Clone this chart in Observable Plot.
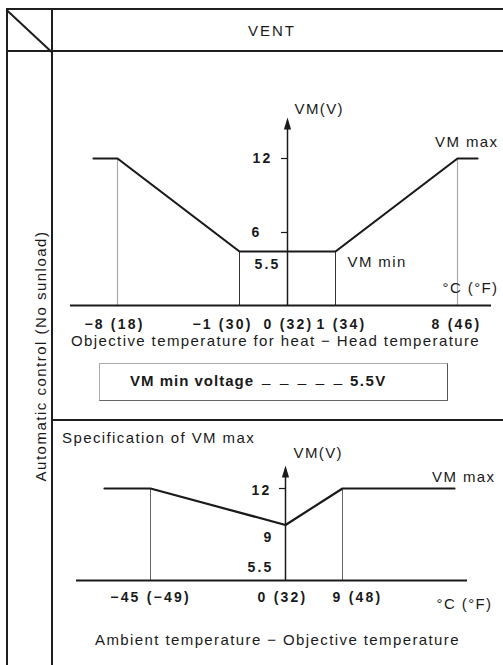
<!DOCTYPE html>
<html><head><meta charset="utf-8">
<script src="https://cdn.jsdelivr.net/npm/d3@7"></script>
<script src="https://cdn.jsdelivr.net/npm/@observablehq/plot@0.6"></script>
<style>
html,body{margin:0;padding:0;background:#fff;overflow:hidden;}
#wrap{position:relative;width:503px;height:665px;overflow:hidden;font-family:"Liberation Sans",Arial,sans-serif;color:#1a1a1a;}
.ln{position:absolute;background:#1e1e1e;}
.txt{position:absolute;white-space:nowrap;font-size:15px;letter-spacing:1.4px;line-height:1;}
.layer{position:absolute;left:0;top:0;}
.layer g[font-weight="bold"] text{letter-spacing:2.2px;}
</style></head><body>
<div id="wrap"></div>
<script>
// ---------- data ----------
const headerLabel = "VENT";
const rowLabel = "Automatic control (No sunload)";

// upper chart: VM vs (objective temperature for heat − head temperature)
const heatTemps = [-10, -8, -1, 1, 8, 10];
const heatVolts = [12, 12, 5.5, 5.5, 12, 12];
const heatTickTemps = [-8, -1, 0, 1, 8];
const heatTickLabels = ["−8 (18)", "−1 (30)", "0 (32)", "1 (34)", "8 (46)"];
const heatGuideTemps = [-8, -1, 1, 8];
const heatGuideVolts = [12, 5.5, 5.5, 12];
const heatVoltTicks = [12, 6, 5.5];
const heatVoltLabels = ["12", "6", "5.5"];
const heatAxisTitle = "Objective temperature for heat − Head temperature";

// VM min box
const vmMinLabel = "VM min voltage";
const vmMinValue = 5.5;

// lower chart: VM max vs (ambient temperature − objective temperature)
const ambTemps = [-60, -45, 0, 9, 30];
const ambVolts = [12, 12, 9, 12, 12];
const ambTickTemps = [-45, 0, 9];
const ambTickLabels = ["−45 (−49)", "0 (32)", "9 (48)"];
const ambGuideTemps = [-45, 9];
const ambGuideVolts = [12, 12];
const ambVoltTicks = [12, 9, 5.5];
const ambVoltLabels = ["12", "9", "5.5"];
const ambAxisTitle = "Ambient temperature − Objective temperature";
const specTitle = "Specification of VM max";
const unitLabel = "°C (°F)";
const yAxisLabel = "VM(V)";

// ---------- frame (HTML) ----------
const wrap = document.getElementById("wrap");
function line(x, y, w, h, color) {
  const d = document.createElement("div");
  d.className = "ln";
  Object.assign(d.style, {left: x + "px", top: y + "px", width: w + "px", height: h + "px"});
  if (color) d.style.background = color;
  wrap.appendChild(d);
  return d;
}
function text(str, x, y, opts = {}) {
  const d = document.createElement("div");
  d.className = "txt";
  d.textContent = str;
  d.style.left = x + "px";
  d.style.top = y + "px";
  Object.assign(d.style, opts);
  wrap.appendChild(d);
  return d;
}
line(6, 8, 497, 2);        // top
line(6, 50, 497, 2);       // header bottom
line(6, 8, 2, 657);        // left border
line(51, 8, 2, 657);       // column divider
line(52, 419, 451, 2);     // section divider
const diag = line(7, 9, Math.hypot(45, 42), 1.5);
diag.style.transformOrigin = "0 0";
diag.style.transform = `rotate(${Math.atan2(42, 45) * 180 / Math.PI}deg)`;
// box
const box = document.createElement("div");
Object.assign(box.style, {position: "absolute", left: "99px", top: "363px", width: "347px", height: "36px",
  borderTop: "1px solid #aaa", borderLeft: "1px solid #aaa", borderRight: "1.5px solid #555", borderBottom: "1.5px solid #666"});
wrap.appendChild(box);

text(headerLabel, 272, 30, {transform: "translate(-50%,-50%)", letterSpacing: "2px"});
text(rowLabel, 40, 356, {transform: "translate(-50%,-50%) rotate(-90deg)", letterSpacing: "1.5px"});
text(specTitle, 62, 437, {transform: "translateY(-50%)"});
text(vmMinLabel, 130, 380, {transform: "translateY(-50%)", fontWeight: "bold", letterSpacing: "1px"});
text("_ _ _ _ _", 262, 376, {transform: "translateY(-50%)", letterSpacing: "2.7px"});
text(vmMinValue + "V", 350, 380, {transform: "translateY(-50%)", fontWeight: "bold", letterSpacing: "1.5px"});

// ---------- charts (Plot) ----------
const arrowHead = {draw(ctx) { ctx.moveTo(0, 0); ctx.lineTo(3.6, 12); ctx.lineTo(-3.6, 12); ctx.closePath(); }};
const ink = "#1a1a1a";
const baseStyle = {background: "transparent", overflow: "visible", fontFamily: "'Liberation Sans', Arial, sans-serif",
  fontSize: "15px", letterSpacing: "1.4px", color: ink};

const heat = heatTemps.map((t, i) => ({t, v: heatVolts[i]}));
const heatGuides = heatGuideTemps.map((t, i) => ({t, v: heatGuideVolts[i]}));
const heatTicks = heatTickTemps.map((t, i) => ({t, label: heatTickLabels[i]}));
const heatYT = heatVoltTicks.map((v, i) => ({v, label: heatVoltLabels[i]}));
const heatTickDx = {"−8 (18)": -3, "−1 (30)": -17, "0 (32)": 1, "1 (34)": 6, "8 (46)": -1};
const heatYDx = {"12": -15, "6": -26, "5.5": -7};
const heatYDy = {"12": 0, "6": 0, "5.5": 13};

const chart1 = Plot.plot({
  width: 503, height: 665,
  marginLeft: 70, marginRight: 12, marginTop: 0, marginBottom: 0,
  style: baseStyle,
  x: {type: "linear", domain: [-10, -8, -1, 0, 1, 8, 10], range: [93, 117, 239, 287, 335, 457, 477], axis: null},
  y: {type: "linear", domain: [0, 5.5, 6, 12, 15], range: [305, 251, 232, 158, 117], axis: null},
  marks: [
    Plot.ruleX(heatGuides.filter(d => d.v > 6), {x: "t", y1: 0, y2: "v", stroke: "#aaa", strokeWidth: 1.2}),
    Plot.ruleX(heatGuides.filter(d => d.v < 6), {x: "t", y1: 0, y2: "v", stroke: "#333", strokeWidth: 1}),
    Plot.ruleY([0], {stroke: ink, strokeWidth: 2}),
    Plot.ruleX([0], {y1: 0, y2: 14.4, stroke: ink, strokeWidth: 1.5}),
    Plot.dot([0], {x: 0, y: 15, symbol: arrowHead, r: 4, fill: ink, stroke: "none"}),
    Plot.ruleY([12, 6], {y: d => d, x1: 0, x2: 0, insetLeft: -6, stroke: ink, strokeWidth: 1.2}),
    Plot.line(heat, {x: "t", y: "v", stroke: ink, strokeWidth: 2.2}),
    Plot.text(heatTicks, {x: "t", y: 0, text: "label", dy: 19, fontWeight: "bold", fontSize: 14}),
    Plot.text(heatYT, {x: 0, y: "v", text: "label", textAnchor: "end", fontWeight: "bold", fontSize: 14}),
    Plot.text([yAxisLabel], {x: 0, y: 15, text: d => d, textAnchor: "start", dx: 7, dy: -8}),
    Plot.text(["VM max"], {x: 10, y: 12, text: d => d, textAnchor: "end", dx: 21, dy: -16}),
    Plot.text(["VM min"], {x: 1, y: 5.5, text: d => d, textAnchor: "start", dx: 12, dy: 11}),
    Plot.text([unitLabel], {x: 10, y: 0, text: d => d, textAnchor: "end", dx: 21, dy: -17}),
    Plot.text([heatAxisTitle], {x: 0, y: 0, text: d => d, dx: -12, dy: 36})
  ]
});
chart1.classList.add("layer");
wrap.appendChild(chart1);

const amb = ambTemps.map((t, i) => ({t, v: ambVolts[i]}));
const ambGuides = ambGuideTemps.map((t, i) => ({t, v: ambGuideVolts[i]}));
const ambTicks = ambTickTemps.map((t, i) => ({t, label: ambTickLabels[i]}));
const ambYT = ambVoltTicks.map((v, i) => ({v, label: ambVoltLabels[i]}));
const ambTickDx = {"−45 (−49)": 0, "0 (32)": -3, "9 (48)": 15};
const ambYDx = {"12": -14, "9": -12, "5.5": -12};
const ambYDy = {"12": 2, "9": 13, "5.5": 0};

const chart2 = Plot.plot({
  width: 503, height: 665,
  marginLeft: 76, marginRight: 36, marginTop: 0, marginBottom: 0,
  style: baseStyle,
  x: {type: "linear", domain: [-60, -45, 0, 9, 30], range: [104, 150, 285, 342, 454], axis: null},
  y: {type: "linear", domain: [0, 5.5, 12, 15], range: [580, 567, 488, 465], axis: null},
  marks: [
    Plot.ruleX(ambGuides, {x: "t", y1: 0, y2: "v", stroke: "#666", strokeWidth: 1}),
    Plot.ruleY([0], {stroke: ink, strokeWidth: 2}),
    Plot.ruleX([0], {y1: 0, y2: 14.4, stroke: ink, strokeWidth: 1.5}),
    Plot.dot([0], {x: 0, y: 15, symbol: arrowHead, r: 4, fill: ink, stroke: "none"}),
    Plot.ruleY([12], {y: d => d, x1: 0, x2: 0, insetLeft: -6, stroke: ink, strokeWidth: 1.2}),
    Plot.line(amb, {x: "t", y: "v", stroke: ink, strokeWidth: 2.2}),
    Plot.text(ambTicks, {x: "t", y: 0, text: "label", dy: 17, fontWeight: "bold", fontSize: 14}),
    Plot.text(ambYT, {x: 0, y: "v", text: "label", textAnchor: "end", fontWeight: "bold", fontSize: 14}),
    Plot.text([yAxisLabel], {x: 0, y: 15, text: d => d, textAnchor: "start", dx: 8, dy: -12}),
    Plot.text(["VM max"], {x: 30, y: 12, text: d => d, textAnchor: "end", dx: 41, dy: -11}),
    Plot.text([unitLabel], {x: 30, y: 0, text: d => d, textAnchor: "end", dx: 38, dy: 24}),
    Plot.text([ambAxisTitle], {x: 0, y: 0, text: d => d, dx: -8, dy: 60})
  ]
});
chart2.classList.add("layer");
wrap.appendChild(chart2);

// per-label nudges for tick labels (layout)
function nudge(svg, dxMap, dyMap) {
  svg.querySelectorAll("text").forEach(t => {
    const s = t.textContent;
    const dx = dxMap[s] || 0, dy = (dyMap && dyMap[s]) || 0;
    if (dx || dy) {
      const tr = t.getAttribute("transform") || "";
      t.setAttribute("transform", tr + ` translate(${dx},${dy})`);
    }
  });
}
nudge(chart1, Object.assign({}, heatTickDx, heatYDx), heatYDy);
nudge(chart2, Object.assign({}, ambTickDx, ambYDx), ambYDy);
</script>
</body></html>
